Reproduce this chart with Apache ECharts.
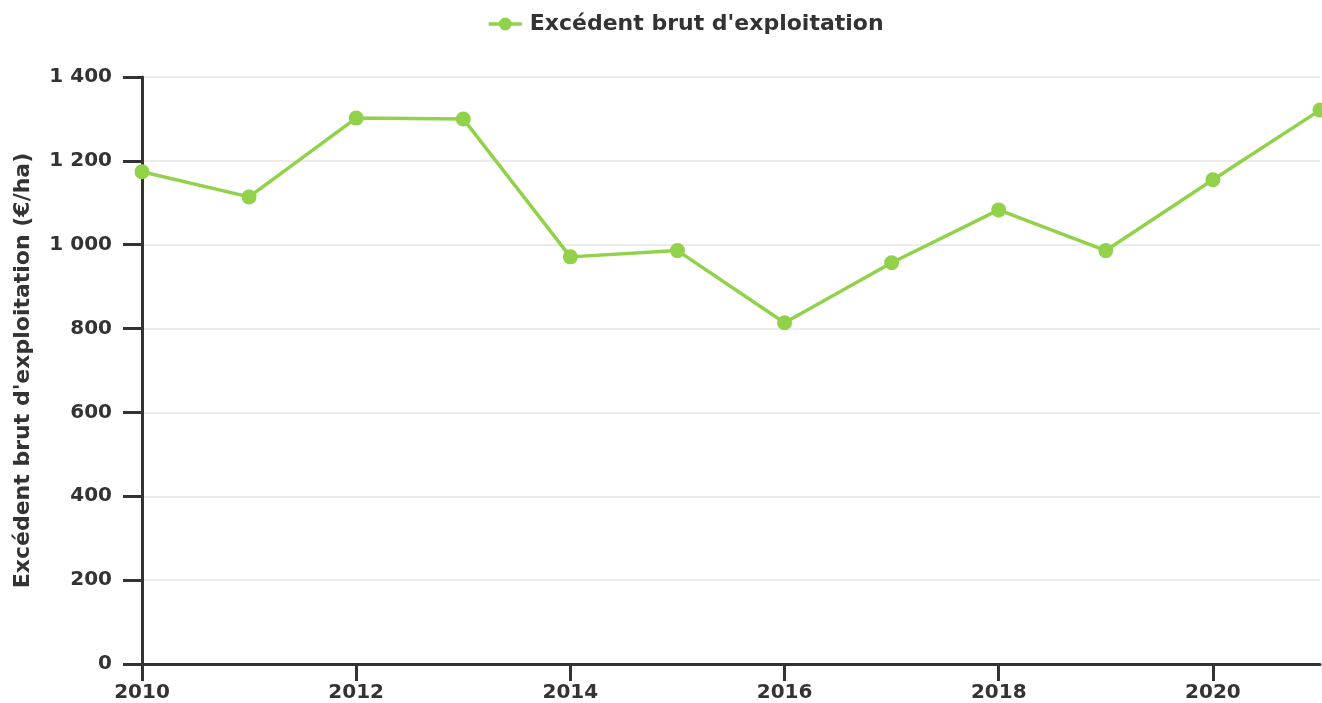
<!DOCTYPE html>
<html>
<head>
<meta charset="utf-8">
<style>
  html, body { margin: 0; padding: 0; background: #fff; }
  #chart { width: 1322px; height: 703px; }
</style>
<script src="https://cdn.jsdelivr.net/npm/echarts@6/dist/echarts.min.js"></script>
</head>
<body>
<div id="chart"></div>
<script>
// Excédent brut d'exploitation par hectare, 2010-2021
const years = [2010, 2011, 2012, 2013, 2014, 2015, 2016, 2017, 2018, 2019, 2020, 2021];
const ebeValues = [1174, 1114, 1302, 1300, 971, 986, 814, 957, 1083, 986, 1155, 1321];
const seriesName = "Excédent brut d'exploitation";
const yAxisTitle = "Excédent brut d'exploitation (€/ha)";

const fmtThousands = v => String(v).replace(/\B(?=(\d{3})+(?!\d))/g, ' ');
const FONT = 'DejaVu Sans';
const INK = '#333333';
const GREEN = '#92d14a';

const chart = echarts.init(document.getElementById('chart'));
chart.setOption({
  animation: false,
  textStyle: { fontFamily: FONT },
  legend: {
    top: 8,
    left: 482,
    itemWidth: 33,
    itemHeight: 16,
    lineStyle: { width: 3.5 },
    textStyle: { fontFamily: FONT, fontWeight: 'bold', fontSize: 22, color: INK, padding: [0, 0, 0, 3] },
    data: [seriesName]
  },
  grid: { left: 142, right: 2, top: 77, bottom: 38 },
  xAxis: {
    type: 'value',
    min: 2010,
    max: 2021,
    interval: 2,
    axisLine: { show: true, onZero: false, lineStyle: { color: INK, width: 3 } },
    axisTick: { show: true, length: 17, lineStyle: { color: INK, width: 3 } },
    axisLabel: {
      fontFamily: FONT, fontWeight: 'bold', fontSize: 20, color: INK, margin: 19,
      showMaxLabel: false,
      formatter: v => String(v)
    },
    splitLine: { show: false }
  },
  yAxis: {
    type: 'value',
    min: 0,
    max: 1400,
    interval: 200,
    name: yAxisTitle,
    nameLocation: 'middle',
    nameGap: 108,
    nameRotate: 90,
    nameTextStyle: { fontFamily: FONT, fontWeight: 'bold', fontSize: 22, color: INK },
    axisLine: { show: true, lineStyle: { color: INK, width: 3 } },
    axisTick: { show: true, length: 19, lineStyle: { color: INK, width: 3 } },
    axisLabel: {
      fontFamily: FONT, fontWeight: 'bold', fontSize: 20, color: INK, margin: 30,
      formatter: v => fmtThousands(v)
    },
    splitLine: { show: true, lineStyle: { color: '#e6e6e6', width: 1.5 } }
  },
  series: [{
    name: seriesName,
    type: 'line',
    data: years.map((y, i) => [y, ebeValues[i]]),
    symbol: 'circle',
    symbolSize: 15,
    itemStyle: { color: GREEN },
    lineStyle: { color: GREEN, width: 3.5 },
    clip: false
  }]
});
</script>
</body>
</html>
